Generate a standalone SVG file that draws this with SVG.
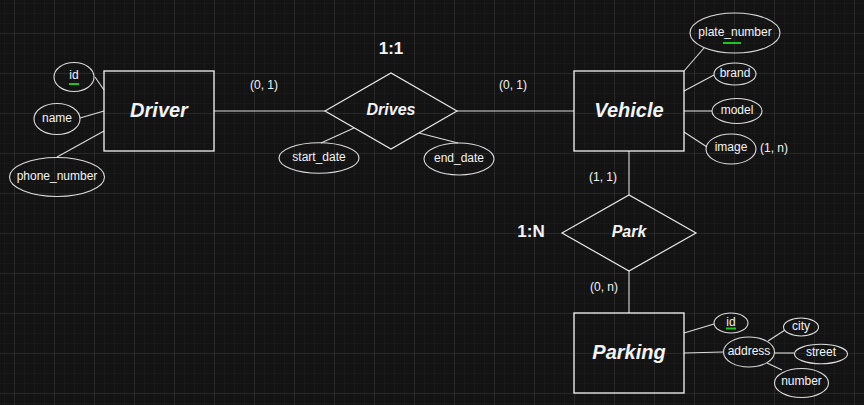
<svg xmlns="http://www.w3.org/2000/svg" width="864" height="405" viewBox="0 0 864 405">
<style>
.ent{fill:none;stroke:#f5f5f5;stroke-width:1.3}
.rel{fill:none;stroke:#e8e8e8;stroke-width:1.2}
.att{fill:none;stroke:#dcdcdc;stroke-width:1.1}
.con line{stroke:#dcdcdc;stroke-width:1.1}
text{font-family:"Liberation Sans",Arial,sans-serif;fill:#f2f4f8;text-anchor:middle;dominant-baseline:central}
.t12{font-size:12px}
.big{font-size:20px;font-weight:bold;font-style:italic}
.mid{font-size:16px;font-weight:bold;font-style:italic}
.card{font-size:17px;font-weight:bold}
.key{stroke:#1fc51f;stroke-width:2}
</style>
<defs>
<pattern id="minor" patternUnits="userSpaceOnUse" x="4" y="3" width="10" height="10">
<path d="M0 0H10M0 0V10" stroke="#1f1f1f" stroke-width="1" fill="none"/>
</pattern>
<pattern id="major" patternUnits="userSpaceOnUse" x="14" y="33" width="40" height="40">
<path d="M0 0H40M0 0V40" stroke="#363636" stroke-width="1" fill="none"/>
</pattern>
</defs>
<rect width="864" height="405" fill="#131313"/>
<rect width="864" height="405" fill="url(#minor)"/>
<rect width="864" height="405" fill="url(#major)"/>

<g id="connectors" class="con">
<line x1="95" y1="77" x2="104" y2="90"/>
<line x1="80" y1="118" x2="104" y2="111"/>
<line x1="57" y1="157" x2="104" y2="131"/>
<line x1="214" y1="111" x2="325" y2="111"/>
<line x1="457" y1="111" x2="574" y2="111"/>
<line x1="321" y1="143" x2="354" y2="128"/>
<line x1="419" y1="133" x2="458" y2="143"/>
<line x1="704" y1="48" x2="684" y2="71"/>
<line x1="714" y1="75" x2="684" y2="91"/>
<line x1="684" y1="111" x2="712" y2="111"/>
<line x1="684" y1="132" x2="707" y2="147"/>
<line x1="629" y1="151" x2="629" y2="195"/>
<line x1="629" y1="271" x2="629" y2="313"/>
<line x1="684" y1="333" x2="714" y2="324"/>
<line x1="684" y1="353" x2="723" y2="352"/>
<line x1="768" y1="341" x2="785" y2="330"/>
<line x1="774" y1="353" x2="794" y2="353"/>
<line x1="767" y1="363" x2="782" y2="370"/>
</g>

<g id="driver">
<rect class="ent" x="104" y="71" width="110" height="80"/>
<text class="big" x="159" y="110">Driver</text>
</g>
<g id="driver-id">
<ellipse class="att" cx="74" cy="77" rx="20" ry="14.5"/>
<text class="t12" x="74" y="74.5">id</text>
<line class="key" x1="69" y1="84" x2="79" y2="84"/>
</g>
<g id="driver-name">
<ellipse class="att" cx="57" cy="119" rx="23" ry="15.5"/>
<text class="t12" x="57" y="118">name</text>
</g>
<g id="driver-phone">
<ellipse class="att" cx="57" cy="177" rx="47.5" ry="19.5"/>
<text class="t12" x="57" y="176">phone_number</text>
</g>

<g id="drives">
<polygon class="rel" points="325,111 391,73 457,111 391,149"/>
<text class="mid" x="391" y="109">Drives</text>
<text class="card" x="391" y="48">1:1</text>
<text class="t12" x="264" y="85">(0, 1)</text>
<text class="t12" x="513" y="85">(0, 1)</text>
</g>
<g id="start-date">
<ellipse class="att" cx="319" cy="158" rx="40" ry="15.3"/>
<text class="t12" x="319" y="156.5">start_date</text>
</g>
<g id="end-date">
<ellipse class="att" cx="459" cy="159" rx="35" ry="16"/>
<text class="t12" x="459" y="157.5">end_date</text>
</g>

<g id="vehicle">
<rect class="ent" x="574" y="71" width="110" height="80"/>
<text class="big" x="629" y="109.5">Vehicle</text>
</g>
<g id="plate-number">
<ellipse class="att" cx="735" cy="33" rx="45" ry="20"/>
<text class="t12" x="735" y="32">plate_number</text>
<line class="key" x1="723" y1="43" x2="741" y2="43"/>
</g>
<g id="brand">
<ellipse class="att" cx="735" cy="74" rx="21" ry="11"/>
<text class="t12" x="735" y="72.5">brand</text>
</g>
<g id="model">
<ellipse class="att" cx="737" cy="111" rx="25" ry="12.5"/>
<text class="t12" x="737" y="110">model</text>
</g>
<g id="image">
<ellipse class="att" cx="731" cy="149" rx="25" ry="15"/>
<text class="t12" x="731" y="146.5">image</text>
<text class="t12" x="774" y="147.5">(1, n)</text>
</g>

<g id="park">
<polygon class="rel" points="562,233 629,195 696,233 629,271"/>
<text class="mid" x="629" y="231.5">Park</text>
<text class="card" x="531" y="231.5">1:N</text>
<text class="t12" x="603" y="176.5">(1, 1)</text>
<text class="t12" x="604" y="287">(0, n)</text>
</g>

<g id="parking">
<rect class="ent" x="574" y="313" width="110" height="80"/>
<text class="big" x="629" y="352">Parking</text>
</g>
<g id="parking-id">
<ellipse class="att" cx="731" cy="323" rx="17" ry="10"/>
<text class="t12" x="731" y="321.5">id</text>
<line class="key" x1="726" y1="328.5" x2="736" y2="328.5"/>
</g>
<g id="address">
<ellipse class="att" cx="749" cy="352" rx="25.5" ry="15"/>
<text class="t12" x="749" y="351">address</text>
</g>
<g id="city">
<ellipse class="att" cx="801" cy="327" rx="17.5" ry="9"/>
<text class="t12" x="801" y="326">city</text>
</g>
<g id="street">
<ellipse class="att" cx="821" cy="354" rx="26.5" ry="9.7"/>
<text class="t12" x="821" y="352">street</text>
</g>
<g id="number">
<ellipse class="att" cx="801.5" cy="383" rx="27" ry="14.5"/>
<text class="t12" x="801.5" y="381">number</text>
</g>
</svg>
